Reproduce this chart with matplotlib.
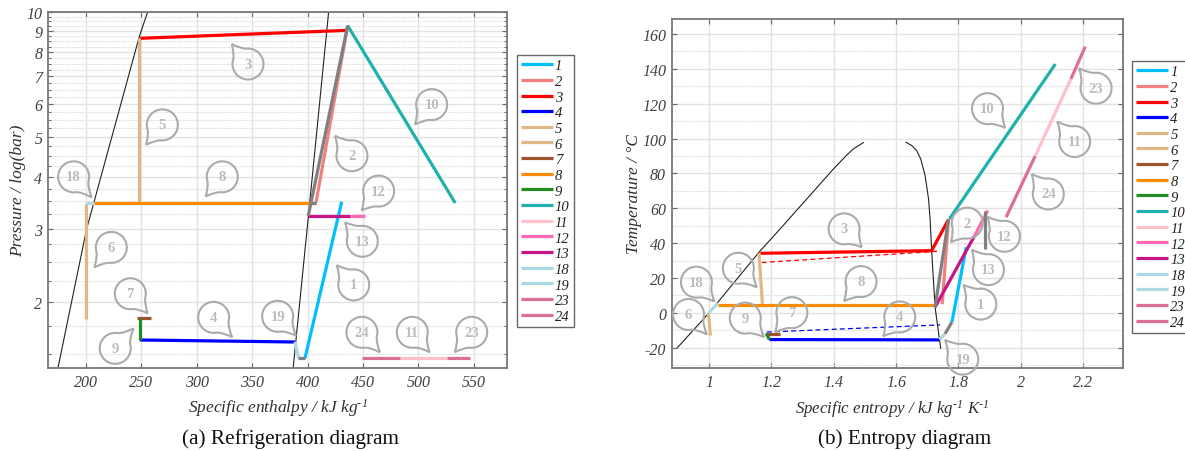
"""Refrigeration cycle: pressure-enthalpy and temperature-entropy diagrams."""
import matplotlib
matplotlib.use('Agg')
import numpy as np
import matplotlib.pyplot as plt
from matplotlib.patches import PathPatch
from matplotlib.path import Path
from matplotlib.ticker import FixedLocator, FixedFormatter, NullFormatter
from matplotlib.transforms import IdentityTransform

plt.rcParams['font.family'] = ['Liberation Serif', 'DejaVu Serif']
plt.rcParams['font.style'] = 'italic'
plt.rcParams['axes.unicode_minus'] = False
plt.rcParams['mathtext.fontset'] = 'custom'
plt.rcParams['mathtext.rm'] = 'Liberation Serif:italic'
plt.rcParams['mathtext.it'] = 'Liberation Serif:italic'

W, H = 1185, 452

series_labels = ['1', '2', '3', '4', '5', '6', '7', '8', '9', '10', '11', '12', '13', '18', '19', '23', '24']
series_colors = ['deepskyblue', 'lightcoral', 'red', 'blue', 'burlywood', 'burlywood', 'sienna', 'darkorange',
                 'forestgreen', 'lightseagreen', 'pink', 'hotpink', 'mediumvioletred', 'lightblue', 'lightblue',
                 'palevioletred', 'palevioletred']

# left diagram, one entry per series label
enthalpy = [[397.6, 430.8], [407.6, 436.2], [248.7, 435.6], [248.7, 388.6], [247.4, 247.4], [200.3, 200.3],
            [246, 258.7], [207.5, 408], [248.7, 248.7], [436.2, 533.3], [483.4, 525.5], [438.3, 451.8],
            [400.6, 438.3], [200.3, 207.5], [388.6, 392], [525.5, 546.6], [449.4, 483.4]]
pressure = [[1.46, 3.485], [3.47, 9.27], [8.64, 9.03], [1.617, 1.599], [8.64, 3.47], [3.47, 1.82],
            [1.83, 1.83], [3.47, 3.47], [1.83, 1.617], [9.27, 3.46], [1.46, 1.46], [3.22, 3.22],
            [3.22, 3.22], [3.47, 3.47], [1.6, 1.46], [1.46, 1.46], [1.46, 1.46]]
sat_liquid_h = [174.7, 200.6, 207.5, 248, 255.6]
sat_liquid_p = [1.385, 3, 3.5, 8.7, 10]
sat_vapor_h = [387, 399.6, 419]
sat_vapor_p = [1.385, 3, 10]
gray_h = [[400.6, 436.2], [402, 408], [391.5, 397.6]]
gray_p = [[3.22, 9.27], [3.47, 3.47], [1.46, 1.46]]

# right diagram, one entry per series label
entropy = [[1.779, 1.825], [1.748, 1.768], [1.164, 1.714, 1.768], [1.193, 1.739], [1.16, 1.171], [0.998, 1.004],
           [1.18, 1.228], [1.028, 1.725], [1.185, 1.193], [1.771, 2.111], [2.046, 2.161], [1.851, 1.894],
           [1.725, 1.851], [0.998, 1.028], [1.739, 1.757], [2.161, 2.207], [1.953, 2.046]]
temperature = [[-5.3, 37.7], [5, 53.9], [34.2, 35.7, 53.5], [-15.3, -15.5], [34.2, 5.2], [-0.2, -13],
               [-12, -12], [4.8, 4.8], [-12, -15.3], [53.9, 142.8], [89.9, 134.3], [44, 58.7],
               [3.3, 44], [-0.2, 5.5], [-15.3, -12], [134.3, 152.8], [54.9, 89.9]]
dome_liquid_s = [0.898, 1.0, 1.16, 1.23, 1.399, 1.442, 1.463, 1.495]
dome_liquid_t = [-20, 0, 34.8, 48.6, 82.6, 90.6, 94.1, 97.7]
dome_vapor_s = [1.632, 1.650, 1.666, 1.679, 1.693, 1.704, 1.709, 1.714, 1.725, 1.743]
dome_vapor_t = [97.9, 96, 93.1, 88.3, 78.8, 65.4, 53.9, 35.7, 3.3, -20.3]
gray_s = [[1.757, 1.779], [1.725, 1.768], [1.884, 1.884]]
gray_t = [[-12, -5.3], [3.3, 53.5], [58.3, 36.7]]
dash_red_s = [1.169, 1.739]
dash_red_t = [28.9, 35.4]
dash_blue_s = [1.185, 1.741]
dash_blue_t = [-11, -6.9]

# callouts: label, tip x, tip y, then centre offset from the tip in pixels (y down)
callouts_a = [('3', 331.5, 8.37, 16.3, 20), ('5', 254.2, 4.78, 16.3, -20), ('18', 205.1, 3.57, -18, -20.6),
              ('8', 308, 3.59, 16.6, -19.6), ('10', 496.9, 5.35, 16.7, -20), ('2', 424.7, 5.03, 17, 20),
              ('12', 448.8, 3.32, 17, -19.4), ('6', 207.5, 2.42, 17, -20), ('7', 255.7, 1.875, -17.4, -19.6),
              ('9', 243, 1.725, -18.4, 20), ('4', 332, 1.641, -18.6, -20), ('19', 389.5, 1.656, -18.3, -19.4),
              ('13', 433.8, 3.11, 17.3, 19), ('1', 426.3, 2.45, 17, 19.7), ('24', 465.3, 1.51, -18, -20),
              ('11', 510.2, 1.51, -17.4, -20), ('23', 532.8, 1.51, 17, -20)]
callouts_b = [('3', 1.49, 37.7, -17.7, -18.3), ('5', 1.153, 14.7, -18.4, -19), ('18', 1.017, 6.5, -18, -19.4),
              ('6', 0.993, -12.4, -18.4, -20), ('9', 1.176, -13.9, -18.7, -19), ('7', 1.212, -11.1, 16.7, -19.6),
              ('8', 1.433, 6.7, 17, -19.6), ('4', 1.559, -13.4, 16.4, -19.3), ('2', 1.776, 40.6, 16.3, -19),
              ('12', 1.893, 55.2, 17, 19.6), ('13', 1.843, 36.3, 16.6, 20), ('1', 1.816, 16.1, 17.4, 19.3),
              ('19', 1.757, -15.5, 17.7, 19.3), ('24', 2.035, 79.7, 16.6, 20), ('10', 1.95, 106.1, -17.7, -19.3),
              ('11', 2.117, 109.8, 17.4, 20), ('23', 2.187, 140.4, 17, 20)]

h_ticks = [200, 250, 300, 350, 400, 450, 500, 550]
p_ticks = [2, 3, 4, 5, 6, 7, 8, 9, 10]
s_ticks = [1, 1.2, 1.4, 1.6, 1.8, 2, 2.2]
s_ticklabels = ['1', '1.2', '1.4', '1.6', '1.8', '2', '2.2']
t_ticks = [-20, 0, 20, 40, 60, 80, 100, 120, 140, 160]


def px_axes(fig, left, top, right, bottom):
    return fig.add_axes([left / W, 1 - bottom / H, (right - left) / W, (bottom - top) / H])


def draw_callout(ax, label, x, y, dx, dy, r=15.5):
    tip = ax.transData.transform((x, y))
    centre = tip + np.array([dx, -dy])
    a = np.arctan2(tip[1] - centre[1], tip[0] - centre[0])
    th = np.radians(32)
    angles = np.linspace(a + th, a + 2 * np.pi - th, 40)
    ring = np.c_[centre[0] + r * np.cos(angles), centre[1] + r * np.sin(angles)]
    c1 = centre + 1.12 * r * np.array([np.cos(a + 0.22), np.sin(a + 0.22)])
    c2 = centre + 1.12 * r * np.array([np.cos(a - 0.22), np.sin(a - 0.22)])
    verts = [tip, c1, ring[0]] + list(ring[1:]) + [c2, tip]
    codes = [Path.MOVETO, Path.CURVE3, Path.CURVE3] + [Path.LINETO] * (len(ring) - 1) + [Path.CURVE3, Path.CURVE3]
    ax.add_patch(PathPatch(Path(verts, codes), fill=False, edgecolor='#ababab', lw=1.5,
                           transform=IdentityTransform(), zorder=6, clip_on=False))
    ax.text(centre[0], centre[1], label, transform=IdentityTransform(), ha='center', va='center',
            fontsize=10.5, fontweight='bold', style='normal', color='#bcbcbc', zorder=6)


def style_axes(ax):
    ax.set_axisbelow(True)
    ax.grid(True, which='major', color='#e2e2e2', lw=1)
    ax.grid(True, which='minor', axis='y', color='#e4e4e4', lw=0.8, ls=(0, (1.5, 0.6)))
    ax.tick_params(which='major', direction='in', top=True, right=True, length=3.5, width=0.8,
                   color='#666666', labelsize=11.5, labelcolor='#404040', pad=4)
    ax.tick_params(which='minor', direction='in', right=True, left=True, length=2, width=0.7, color='#666666')
    for sp in ax.spines.values():
        sp.set_color('#777777')
        sp.set_linewidth(1.3)


def add_legend(ax, handles, left, top):
    leg = ax.legend(handles, series_labels, loc='upper left', bbox_to_anchor=(left / W, 1 - top / H),
                    bbox_transform=ax.figure.transFigure, borderaxespad=0, fancybox=False, framealpha=1,
                    edgecolor='#666666', prop={'style': 'italic', 'size': 10.5}, labelspacing=0.168,
                    handlelength=2.19, handletextpad=0.14, borderpad=0.28)
    leg.get_frame().set_linewidth(1)
    for t in leg.get_texts():
        t.set_color('#222222')


fig = plt.figure(figsize=(W / 100, H / 100), dpi=100)

# (a) refrigeration diagram
ax1 = px_axes(fig, 48, 13, 507, 369)
ax1.set_yscale('log')
ax1.set_xlim(165.7, 580)
ax1.set_ylim(1.384, 10)
ax1.set_xticks(h_ticks)
ax1.yaxis.set_major_locator(FixedLocator(p_ticks))
ax1.yaxis.set_major_formatter(FixedFormatter([str(p) for p in p_ticks]))
ax1.yaxis.set_minor_locator(FixedLocator([v for v in np.arange(1.5, 10, 0.25) if v not in p_ticks]))
ax1.yaxis.set_minor_formatter(NullFormatter())
style_axes(ax1)

ax1.plot(sat_liquid_h, sat_liquid_p, color='#222222', lw=0.8, zorder=2)
ax1.plot(sat_vapor_h, sat_vapor_p, color='#222222', lw=0.8, zorder=2)
handles1 = []
for x, y, c in zip(enthalpy, pressure, series_colors):
    handles1.append(ax1.plot(x, y, color=c, lw=2.3, solid_capstyle='butt', zorder=3)[0])
for x, y in zip(gray_h, gray_p):
    ax1.plot(x, y, color='gray', lw=2.3, solid_capstyle='butt', zorder=4)
ax1.set_xlabel(r'Specific enthalpy / kJ kg$^{\text{-1}}$', fontsize=12.5, color='#303030', labelpad=5)
ax1.set_ylabel('Pressure / log(bar)', fontsize=12.5, color='#303030', labelpad=0)
add_legend(ax1, handles1, 516.7, 56)
for c in callouts_a:
    draw_callout(ax1, *c)

# (b) entropy diagram
ax2 = px_axes(fig, 671.7, 19.7, 1122.7, 369.3)
ax2.set_xlim(0.88, 2.327)
ax2.set_ylim(-31.8, 168.8)
ax2.set_xticks(s_ticks, s_ticklabels)
ax2.set_yticks(t_ticks)
ax2.set_yticks([v + 10 for v in t_ticks[:-1]] + [-30], minor=True)
style_axes(ax2)
ax2.tick_params(which='minor', length=0)

ax2.plot(dome_liquid_s, dome_liquid_t, color='#222222', lw=0.8, zorder=2)
ax2.plot(dome_vapor_s, dome_vapor_t, color='#222222', lw=0.8, zorder=2)
ax2.plot(dash_red_s, dash_red_t, color='red', lw=0.9, ls=(0, (4, 2.5)), zorder=3)
ax2.plot(dash_blue_s, dash_blue_t, color='blue', lw=0.9, ls=(0, (4, 2.5)), zorder=3)
handles2 = []
for x, y, c in zip(entropy, temperature, series_colors):
    handles2.append(ax2.plot(x, y, color=c, lw=2.3, solid_capstyle='butt', zorder=3)[0])
for x, y in zip(gray_s, gray_t):
    ax2.plot(x, y, color='gray', lw=2.3, solid_capstyle='butt', zorder=4)
ax2.set_xlabel(r'Specific entropy / kJ kg$^{\text{-1}}$ K$^{\text{-1}}$', fontsize=12.2, color='#303030', labelpad=5)
ax2.xaxis.label.set_x(0.4885)
ax2.set_ylabel('Temperature / °C', fontsize=12.5, color='#303030', labelpad=0)
add_legend(ax2, handles2, 1132.3, 62)
for c in callouts_b:
    draw_callout(ax2, *c)

fig.text(291 / W, 1 - 439 / H, '(a) Refrigeration diagram', ha='center', va='center', fontsize=15.3, style='normal', color='#111111')
fig.text(905 / W, 1 - 439 / H, '(b) Entropy diagram', ha='center', va='center', fontsize=15.3, style='normal', color='#111111')

fig.savefig('out.png', dpi=100)
